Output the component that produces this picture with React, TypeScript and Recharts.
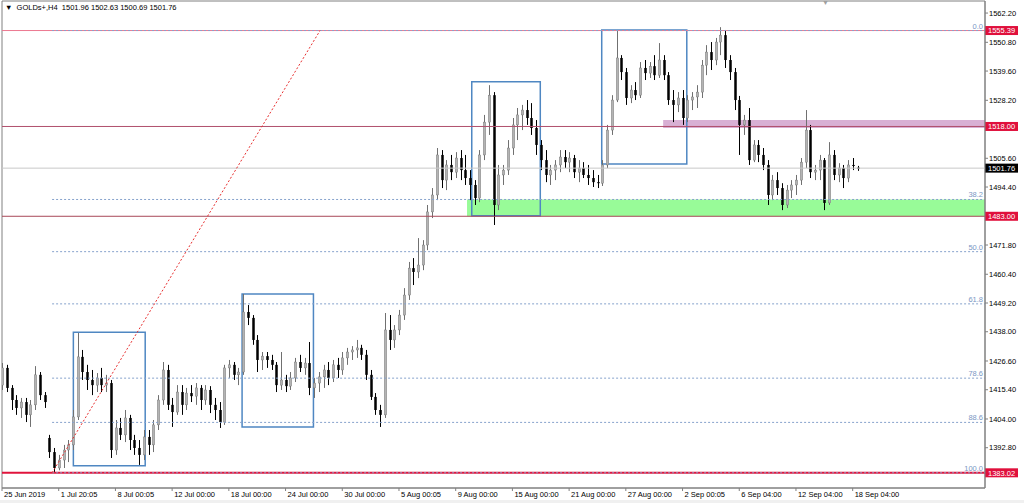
import { Bar, ComposedChart, ReferenceArea, ReferenceLine, XAxis, YAxis } from "recharts";

// GOLDs+ H4, candles (roughly two H4 bars per candle)
// [open, high, low, close]
const candles: number[][] = [
    // 25 Jun - 1 Jul
    [1417.2, 1425.8, 1415.3, 1423.9], [1423.9, 1425.1, 1414.5, 1416.1], [1416.1, 1417.2, 1407.5, 1411.4],
    [1411.4, 1413.3, 1405.6, 1408.3], [1408.3, 1412.2, 1404.4, 1410.6], [1410.6, 1412.2, 1402.8, 1405.6],
    [1405.6, 1411.4, 1400.9, 1409.5], [1409.5, 1424.6, 1407.5, 1421.2], [1421.2, 1422.3, 1411.4, 1413.3],
    [1413.3, 1414.5, 1408.3, 1410.6], [1396.6, 1397.8, 1388.8, 1391.1], [1391.1, 1392.7, 1383.02, 1384.9],
    // 1 Jul - 8 Jul
    [1384.9, 1390.0, 1384.0, 1388.0], [1388.0, 1393.9, 1384.9, 1391.9], [1391.9, 1395.8, 1387.2, 1393.9],
    [1393.9, 1407.5, 1391.9, 1404.8], [1404.8, 1437.5, 1403.6, 1428.2], [1428.2, 1430.9, 1419.2, 1422.3],
    [1422.3, 1425.1, 1415.3, 1419.2], [1419.2, 1423.1, 1413.3, 1417.2], [1417.2, 1421.9, 1414.5, 1420.0],
    [1420.0, 1423.9, 1414.5, 1417.2], [1417.2, 1421.2, 1414.5, 1418.0], [1418.0, 1419.2, 1388.8, 1391.9],
    // 8 Jul - 12 Jul
    [1391.9, 1403.6, 1390.0, 1400.5], [1400.5, 1404.4, 1395.8, 1397.8], [1397.8, 1407.5, 1395.0, 1404.4],
    [1404.4, 1405.6, 1391.9, 1395.8], [1395.8, 1397.8, 1390.0, 1392.7], [1392.7, 1395.8, 1386.1, 1390.0],
    [1390.0, 1399.7, 1388.0, 1397.0], [1397.0, 1399.7, 1390.0, 1393.9], [1393.9, 1403.6, 1391.1, 1401.7],
    [1401.7, 1413.3, 1399.7, 1411.4], [1411.4, 1426.2, 1409.5, 1423.1], [1423.1, 1425.1, 1407.5, 1409.5],
    // 12 Jul - 18 Jul
    [1409.5, 1412.2, 1400.9, 1406.7], [1406.7, 1417.2, 1405.6, 1414.5], [1414.5, 1417.2, 1405.6, 1409.5],
    [1409.5, 1416.1, 1407.5, 1414.1], [1414.1, 1417.2, 1410.6, 1412.9], [1412.9, 1418.0, 1409.5, 1416.1],
    [1416.1, 1417.2, 1407.5, 1411.4], [1411.4, 1417.2, 1409.5, 1415.3], [1415.3, 1416.8, 1406.3, 1409.5],
    [1409.5, 1412.2, 1403.6, 1407.5], [1407.5, 1410.6, 1400.5, 1402.8], [1402.8, 1425.1, 1401.7, 1423.9],
    // 18 Jul - 24 Jul
    [1423.9, 1427.0, 1420.0, 1425.1], [1425.1, 1426.2, 1419.2, 1421.2], [1421.2, 1423.9, 1417.2, 1422.3],
    [1422.3, 1452.7, 1421.2, 1445.7], [1445.7, 1448.4, 1440.6, 1443.4], [1443.4, 1444.5, 1432.9, 1434.8],
    [1434.8, 1436.7, 1422.3, 1427.0], [1427.0, 1430.1, 1423.1, 1428.5], [1428.5, 1430.1, 1423.9, 1427.0],
    [1427.0, 1429.0, 1423.1, 1425.1], [1425.1, 1426.2, 1414.5, 1417.2], [1417.2, 1430.1, 1415.3, 1419.2],
    // 24 Jul - 30 Jul
    [1419.2, 1421.2, 1414.5, 1416.8], [1416.8, 1422.3, 1415.3, 1420.0], [1420.0, 1427.8, 1418.4, 1426.2],
    [1426.2, 1429.0, 1422.3, 1423.9], [1423.9, 1427.8, 1421.2, 1425.8], [1425.8, 1434.0, 1413.3, 1416.1],
    [1416.1, 1420.0, 1412.2, 1418.0], [1418.0, 1422.3, 1414.5, 1420.4], [1420.4, 1425.1, 1416.1, 1423.1],
    [1423.1, 1426.2, 1417.2, 1420.0], [1420.0, 1427.0, 1418.4, 1425.1], [1425.1, 1427.8, 1420.0, 1423.1],
    // 30 Jul - 5 Aug
    [1423.1, 1430.1, 1421.2, 1427.8], [1427.8, 1431.7, 1425.1, 1430.1], [1430.1, 1432.4, 1427.0, 1430.9],
    [1430.9, 1434.8, 1427.8, 1431.7], [1431.7, 1432.9, 1427.0, 1429.0], [1429.0, 1430.9, 1419.2, 1421.2],
    [1421.2, 1423.1, 1411.4, 1412.6], [1412.6, 1414.1, 1405.6, 1407.5], [1407.5, 1409.5, 1400.9, 1405.6],
    [1405.6, 1445.3, 1404.4, 1438.7], [1438.7, 1444.5, 1430.9, 1434.8], [1434.8, 1440.6, 1431.7, 1438.7],
    // 5 Aug - 9 Aug
    [1438.7, 1446.5, 1436.7, 1444.5], [1444.5, 1455.0, 1442.6, 1452.3], [1452.3, 1465.2, 1450.4, 1462.8],
    [1462.8, 1466.7, 1456.2, 1461.3], [1461.3, 1474.5, 1458.9, 1464.0], [1464.0, 1473.7, 1462.0, 1471.8],
    [1471.8, 1487.4, 1469.8, 1484.7], [1484.7, 1494.0, 1482.3, 1491.3], [1491.3, 1509.6, 1489.3, 1506.9],
    [1506.9, 1508.8, 1494.0, 1497.1], [1497.1, 1504.9, 1493.2, 1503.0], [1503.0, 1506.9, 1497.1, 1500.2],
    // 9 Aug - 15 Aug
    [1500.2, 1508.0, 1497.9, 1505.7], [1505.7, 1508.8, 1497.1, 1501.0], [1501.0, 1506.9, 1495.2, 1497.9],
    [1497.9, 1501.0, 1489.3, 1495.2], [1495.2, 1497.1, 1487.4, 1490.1], [1490.1, 1508.8, 1488.5, 1506.9],
    [1506.9, 1522.5, 1504.9, 1519.7], [1519.7, 1534.1, 1514.7, 1530.2], [1530.2, 1531.4, 1479.6, 1487.4],
    [1487.4, 1503.0, 1485.4, 1499.1], [1499.1, 1503.0, 1495.2, 1501.0], [1501.0, 1512.7, 1499.1, 1509.6],
    // 15 Aug - 21 Aug
    [1509.6, 1521.3, 1506.9, 1518.6], [1518.6, 1525.2, 1512.7, 1522.5], [1522.5, 1526.4, 1516.6, 1524.4],
    [1524.4, 1528.3, 1518.6, 1521.3], [1521.3, 1527.1, 1514.7, 1517.4], [1517.4, 1520.5, 1506.9, 1510.8],
    [1510.8, 1512.7, 1501.0, 1504.9], [1504.9, 1508.8, 1496.3, 1499.1], [1499.1, 1503.0, 1495.2, 1501.0],
    [1501.0, 1504.9, 1497.1, 1503.0], [1503.0, 1508.8, 1500.2, 1506.1], [1506.1, 1508.8, 1501.8, 1504.1],
    // 21 Aug - 27 Aug
    [1504.1, 1508.0, 1500.2, 1505.7], [1505.7, 1506.9, 1497.9, 1500.2], [1500.2, 1504.9, 1496.3, 1501.8],
    [1501.8, 1504.1, 1497.9, 1499.1], [1499.1, 1503.0, 1495.2, 1497.9], [1497.9, 1501.0, 1494.4, 1496.3],
    [1496.3, 1499.1, 1494.0, 1495.9], [1495.9, 1504.9, 1494.8, 1503.0], [1503.0, 1518.6, 1501.8, 1516.6],
    [1516.6, 1530.2, 1514.7, 1528.3], [1528.3, 1555.6, 1527.5, 1544.7], [1544.7, 1545.8, 1536.1, 1539.2],
    // 27 Aug - 2 Sep
    [1539.2, 1540.8, 1526.4, 1529.1], [1529.1, 1534.1, 1527.1, 1532.2], [1532.2, 1535.3, 1528.3, 1530.2],
    [1530.2, 1543.1, 1529.1, 1540.8], [1540.8, 1543.9, 1536.1, 1538.8], [1538.8, 1543.1, 1536.9, 1541.5],
    [1541.5, 1545.8, 1536.1, 1538.0], [1538.0, 1550.5, 1536.9, 1543.9], [1543.9, 1545.8, 1536.1, 1538.0],
    [1538.0, 1539.2, 1526.4, 1528.3], [1528.3, 1532.2, 1519.7, 1526.4], [1526.4, 1531.4, 1523.6, 1529.1],
    // 2 Sep - 6 Sep
    [1529.1, 1532.2, 1518.6, 1521.3], [1521.3, 1530.2, 1519.7, 1528.3], [1528.3, 1531.4, 1524.4, 1529.5],
    [1529.5, 1534.1, 1525.2, 1531.4], [1531.4, 1543.9, 1529.1, 1541.9], [1541.9, 1549.7, 1538.0, 1547.0],
    [1547.0, 1550.9, 1540.0, 1543.9], [1543.9, 1552.5, 1541.9, 1550.9], [1550.9, 1556.7, 1545.8, 1553.6],
    [1553.6, 1555.6, 1540.8, 1543.9], [1543.9, 1545.8, 1536.1, 1539.2], [1539.2, 1540.8, 1524.4, 1528.3],
    // 6 Sep - 12 Sep
    [1528.3, 1529.9, 1506.9, 1518.6], [1518.6, 1522.5, 1514.7, 1520.5], [1520.5, 1525.2, 1503.0, 1504.9],
    [1504.9, 1512.7, 1504.1, 1510.8], [1510.8, 1512.7, 1504.1, 1506.9], [1506.9, 1509.6, 1501.0, 1503.0],
    [1503.0, 1504.9, 1487.4, 1491.3], [1491.3, 1499.1, 1489.3, 1497.1], [1497.1, 1500.2, 1491.3, 1494.0],
    [1494.0, 1495.9, 1485.4, 1487.4], [1487.4, 1495.2, 1486.2, 1493.2], [1493.2, 1497.1, 1490.1, 1495.2],
    // 12 Sep - 18 Sep
    [1495.2, 1499.1, 1491.3, 1497.1], [1497.1, 1505.7, 1495.2, 1504.1], [1504.1, 1524.4, 1501.8, 1516.6],
    [1516.6, 1518.6, 1497.9, 1500.2], [1500.2, 1503.0, 1497.1, 1501.0], [1501.0, 1506.9, 1497.1, 1504.9],
    [1504.9, 1505.7, 1485.4, 1488.2], [1488.2, 1511.9, 1487.4, 1506.9], [1506.9, 1508.8, 1497.1, 1499.1],
    [1499.1, 1503.7, 1496.3, 1501.8], [1501.8, 1503.0, 1494.0, 1497.9], [1497.9, 1504.9, 1496.3, 1503.0],
    // 18 Sep
    [1503.0, 1505.7, 1501.0, 1502.6], [1501.96, 1502.63, 1500.69, 1501.76],
];

const timeLabels = [
    "25 Jun 2019", "1 Jul 20:05", "8 Jul 00:05", "12 Jul 00:00", "18 Jul 00:00", "24 Jul 00:00",
    "30 Jul 00:00", "5 Aug 00:05", "9 Aug 00:00", "15 Aug 00:00", "21 Aug 00:00", "27 Aug 00:00",
    "2 Sep 00:05", "6 Sep 04:00", "12 Sep 04:00", "18 Sep 04:00",
];
const candlesPerLabel = 12;
const slots = 208; // empty room right of the last candle

// 1381.40 sits under the 1383.02 badge, 1483/1517 under the other badges
const priceTicks = [
    1392.8, 1404.0, 1415.4, 1426.6, 1438.0, 1449.2, 1460.4, 1471.8,
    1494.4, 1505.6, 1528.2, 1539.6, 1550.8, 1562.2,
];

// fibo drawn from the 1 Jul low to the 3 Sep high
const fiboFrom = 10.6;
const fiboTo = 67.3;
const fiboLevels = [
    { name: "0.0", value: 1555.39 },
    { name: "38.2", value: 1489.55 },
    { name: "50.0", value: 1469.21 },
    { name: "61.8", value: 1448.86 },
    { name: "78.6", value: 1419.91 },
    { name: "88.6", value: 1402.67 },
    { name: "100.0", value: 1383.02 },
];

const hLines = [
    { value: 1555.39, color: "#ec7890", width: 1, badge: "#e0103c" },
    { value: 1518.0, color: "#b0506c", width: 1, badge: "#e0103c" },
    { value: 1501.76, color: "#c8c8c8", width: 1, badge: "#000000" },
    { value: 1483.0, color: "#a84858", width: 1, badge: "#e0103c" },
    { value: 1383.02, color: "#e0143c", width: 2, badge: "#e0103c" },
];

const zones = [
    { x1: 98.4, y1: 1483.0, y2: 1489.55, fill: "#98fb98" },
    { x1: 139.9, y1: 1517.4, y2: 1520.5, fill: "#d8b0d4" },
];

const boxes = [
    { x1: 15.1, x2: 30.3, y1: 1385.8, y2: 1437.8 },
    { x1: 50.8, x2: 65.9, y1: 1400.9, y2: 1452.7 },
    { x1: 99.4, x2: 113.9, y1: 1483.2, y2: 1535.4 },
    { x1: 126.9, x2: 144.9, y1: 1503.4, y2: 1555.6 },
];

const FONT = "'Liberation Sans', Arial, sans-serif";
const yMin = 1377.1;
const yMax = 1566.9;

const data = candles.map((c, i) => ({ i, open: c[0], high: c[1], low: c[2], close: c[3] }));

// candle drawn inside the [low, high] range bar
const Candle = (props: any) => {
    const { x, y, width, height, payload } = props;
    const { open, high, low, close } = payload;
    const top = Math.min(y, y + height);
    const span = Math.abs(height);
    const k = high - low > 0 ? span / (high - low) : 0;
    const yO = top + (high - open) * k;
    const yC = top + (high - close) * k;
    const bull = close >= open;
    const cx = Math.round(x + width / 2) + 0.5;
    return (
        <g>
            <line x1={cx} x2={cx} y1={top} y2={top + span} stroke={bull ? "#707070" : "#000"} strokeWidth={1} />
            <rect
                x={cx - 1.25}
                y={Math.min(yO, yC)}
                width={2.5}
                height={Math.max(1, Math.abs(yC - yO))}
                fill={bull ? "#b4b4b4" : "#000"}
                stroke={bull ? "#707070" : "none"}
                strokeWidth={0.4}
            />
        </g>
    );
};

const PriceTick = ({ x, y, payload }: any) => (
    <text x={x} y={y} dy={2.7} fontSize={7.5} fontFamily={FONT} fill="#000" textAnchor="start">
        {payload.value.toFixed(2)}
    </text>
);

const TimeTick = ({ x, y, payload }: any) => (
    <text x={x + 2} y={y} dy={5.5} fontSize={7.5} fontFamily={FONT} fill="#000" textAnchor="start">
        {timeLabels[Math.round(payload.value / candlesPerLabel)]}
    </text>
);

const Badge = ({ viewBox, text, bg }: any) => (
    <g>
        <rect x={viewBox.x + viewBox.width} y={viewBox.y - 4.5} width={33} height={9} fill={bg} />
        <text x={viewBox.x + viewBox.width + 3} y={viewBox.y + 2.8} fontSize={7.5} fontFamily={FONT} fill="#fff">
            {text}
        </text>
    </g>
);

const FiboLabel = ({ viewBox, text }: any) => (
    <text x={viewBox.x + viewBox.width - 2} y={viewBox.y - 2} fontSize={7.5} fontFamily={FONT} fill="#7b97c4" textAnchor="end">
        {text}
    </text>
);

const App = () => {
    return (
        <div style={{ position: "absolute", left: 0, top: 0, width: 1024, height: 503, background: "#fff", overflow: "hidden" }}>
            <ComposedChart width={1024} height={503} data={data} margin={{ top: 1, right: 0, left: 2, bottom: 0 }}>
                <XAxis
                    type="number"
                    dataKey="i"
                    domain={[0, slots]}
                    ticks={timeLabels.map((_, k) => k * candlesPerLabel)}
                    interval={0}
                    height={15}
                    tickSize={3}
                    tickMargin={0}
                    stroke="#808080"
                    tick={<TimeTick />}
                    allowDataOverflow
                />
                <YAxis
                    orientation="right"
                    domain={[yMin, yMax]}
                    ticks={priceTicks}
                    interval={0}
                    width={39}
                    tickSize={3}
                    tickMargin={1}
                    stroke="#808080"
                    tick={<PriceTick />}
                    allowDataOverflow
                />

                {/* zones */}
                {zones.map((z, k) => (
                    <ReferenceArea key={"z" + k} x1={z.x1} x2={slots} y1={z.y1} y2={z.y2} fill={z.fill} fillOpacity={1} stroke="none" />
                ))}

                {/* horizontal lines + price badges */}
                {hLines.map((l) => (
                    <ReferenceLine
                        key={"h" + l.value}
                        y={l.value}
                        stroke={l.color}
                        strokeWidth={l.width}
                        label={<Badge text={l.value.toFixed(2)} bg={l.badge} />}
                    />
                ))}

                {/* fibo levels */}
                {fiboLevels.map((f) => (
                    <ReferenceLine
                        key={"f" + f.name}
                        segment={[{ x: fiboFrom, y: f.value }, { x: slots, y: f.value }]}
                        stroke="#86a2cc"
                        strokeDasharray="2 2"
                        label={<FiboLabel text={f.name} />}
                    />
                ))}
                <ReferenceLine
                    segment={[{ x: fiboFrom, y: 1383.02 }, { x: fiboTo, y: 1555.39 }]}
                    stroke="#e83030"
                    strokeDasharray="2 2"
                />

                {/* rectangles */}
                {boxes.map((b, k) => (
                    <ReferenceArea key={"b" + k} x1={b.x1} x2={b.x2} y1={b.y1} y2={b.y2} fill="none" stroke="#4f87c2" strokeWidth={1.5} />
                ))}

                <Bar dataKey={(d: any) => [d.low, d.high]} barSize={3} shape={<Candle />} isAnimationActive={false} />

                {/* frame */}
                <ReferenceArea x1={0} x2={slots} y1={yMin} y2={yMax} fill="none" stroke="#808080" />
            </ComposedChart>
            <div style={{ position: "absolute", left: 5, top: 3, fontSize: 7.5, fontFamily: FONT, color: "#000", whiteSpace: "pre" }}>
                {"▼  GOLDs+,H4  1501.96 1502.63 1500.69 1501.76"}
            </div>
            <div style={{ position: "absolute", left: 822, top: -1, fontSize: 7, color: "#a0a0a0" }}>▼</div>
            <div style={{ position: "absolute", left: 0, top: 500, width: 1024, height: 3, background: "#f0f0f0" }} />
        </div>
    );
};

export default App;
